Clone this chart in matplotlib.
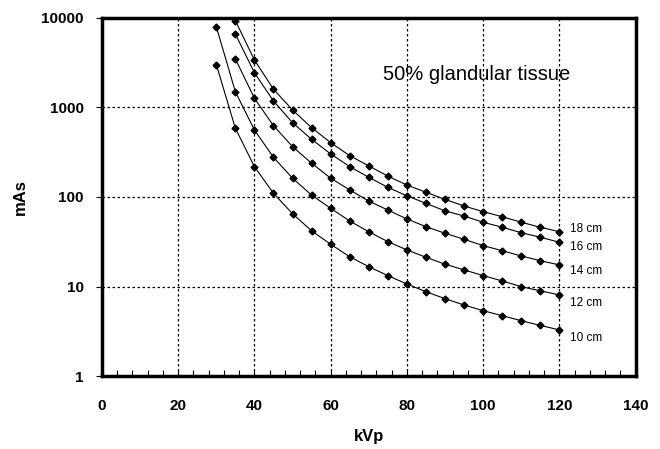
import matplotlib
matplotlib.use("Agg")
import matplotlib.pyplot as plt
from matplotlib.ticker import MultipleLocator, FixedLocator

plt.rcParams['font.family'] = ['Liberation Sans', 'DejaVu Sans']

# kVp values
kvp_30 = [30, 35, 40, 45, 50, 55, 60, 65, 70, 75, 80, 85, 90, 95, 100, 105, 110, 115, 120]
kvp_35 = kvp_30[1:]

# mAs, per breast thickness
mas_10 = [3000, 583, 218, 110, 65, 42, 29.7, 21.6, 16.7, 13.3, 10.7, 8.8, 7.35, 6.25, 5.4, 4.75, 4.18, 3.7, 3.3]
mas_12 = [7900, 1490, 558, 277, 162, 105, 74.8, 54, 41, 31.8, 25.7, 21.3, 17.8, 15.4, 13.3, 11.6, 10.0, 9.0, 8.1]
mas_14 = [3460, 1260, 624, 364, 238, 162, 120, 90, 71.6, 56.9, 46.7, 39.4, 33.8, 28.7, 25.2, 22, 19.5, 17.5]
mas_16 = [6560, 2430, 1175, 673, 440, 302, 218, 166, 128, 103, 85, 70, 61.4, 52.3, 46, 40, 35.6, 31.3]
mas_18 = [9240, 3370, 1590, 933, 593, 403, 289, 222, 171, 136, 113, 94, 79.4, 68.6, 60.3, 52.3, 46, 41]

series = [
    ("10 cm", kvp_30, mas_10),
    ("12 cm", kvp_30, mas_12),
    ("14 cm", kvp_35, mas_14),
    ("16 cm", kvp_35, mas_16),
    ("18 cm", kvp_35, mas_18),
]
# small vertical nudges so labels don't collide (factor on y)
label_shift = {"10 cm": 0.82, "12 cm": 0.82, "14 cm": 0.85, "16 cm": 0.88, "18 cm": 1.08}

fig = plt.figure(figsize=(6.6, 4.49), dpi=100)
ax = fig.add_axes([0.1545, 0.1617, 0.8085, 0.7991])

for name, x, y in series:
    ax.plot(x, y, color="black", lw=0.8, marker="D", markersize=3.5, zorder=3)
    ax.text(122.8, y[-1] * label_shift[name], name, fontsize=8.5, va="center", ha="left")

ax.text(98.4, 2350, "50% glandular tissue", fontsize=14.5, ha="center", va="center")

ax.set_yscale("log")
ax.set_xlim(0, 140)
ax.set_ylim(1, 10000)
ax.xaxis.set_major_locator(MultipleLocator(20))
ax.xaxis.set_minor_locator(MultipleLocator(4))
ax.yaxis.set_major_locator(FixedLocator([1, 10, 100, 1000, 10000]))
ax.yaxis.set_minor_locator(FixedLocator([]))
ax.set_yticklabels(["1", "10", "100", "1000", "10000"])

ax.grid(True, which="major", color="black", linestyle=(0, (2, 2)), lw=0.9)
for s in ax.spines.values():
    s.set_linewidth(2.5)

ax.tick_params(axis="x", which="both", direction="in", length=4, width=0.8, pad=16)
ax.tick_params(axis="y", which="major", direction="out", length=4, width=0.8, pad=9)
for lab in ax.get_xticklabels() + ax.get_yticklabels():
    lab.set_fontweight("bold")
    lab.set_fontsize(11)

ax.set_xlabel("kVp", fontsize=12, fontweight="bold", labelpad=12)
ax.set_ylabel("mAs", fontsize=12, fontweight="bold", labelpad=10)

fig.savefig("out.png", dpi=100)
